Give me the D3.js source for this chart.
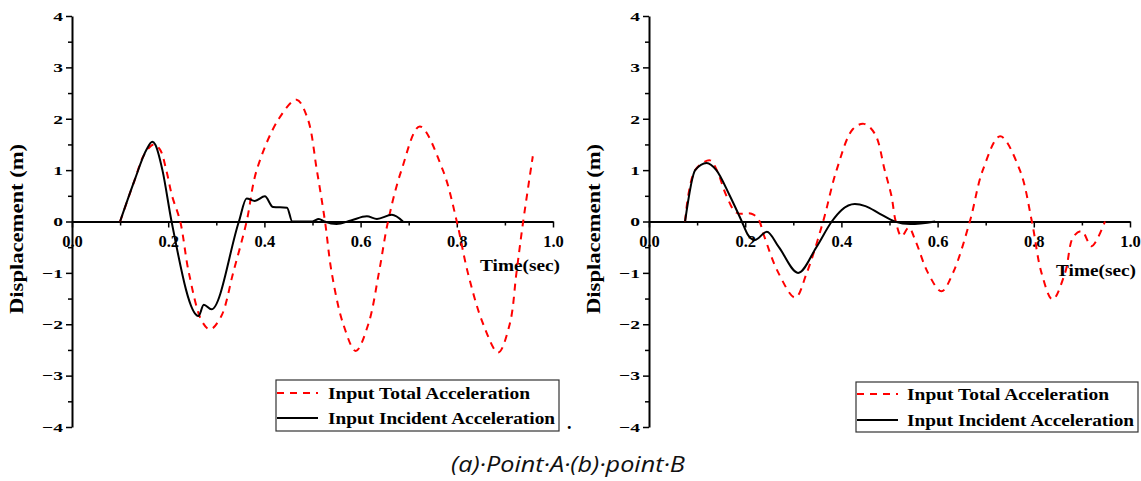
<!DOCTYPE html>
<html><head><meta charset="utf-8">
<script src="https://cdn.jsdelivr.net/npm/d3@7"></script>
<style>body{margin:0;background:#fff;} svg{display:block;}</style>
</head><body>
<svg id="chart" width="1141" height="481"></svg>
<script>
// ---------- data ----------
const xTicks = [0, 0.2, 0.4, 0.6, 0.8, 1.0];
const xMinorTicks = [0.1, 0.3, 0.5, 0.7, 0.9];
const yTicks = [-4, -3, -2, -1, 0, 1, 2, 3, 4];
const yMinorTicks = [-3.5, -2.5, -1.5, -0.5, 0.5, 1.5, 2.5, 3.5];
const seriesNames = ["Input Total Acceleration", "Input Incident Acceleration"];
const xLabel = "Time(sec)";
const yLabel = "Displacement (m)";
const caption = "(a)\u00B7Point\u00B7A\u00B7(b)\u00B7point\u00B7B";

// Point A - total acceleration (red dashed)
const aTotalT = [0.10,0.13,0.15,0.17,0.183,0.196,0.208,0.225,0.243,0.27,0.287,0.31,0.335,0.363,0.384,0.43,0.467,0.49,0.509,0.526,0.54,0.564,0.59,0.616,0.638,0.657,0.685,0.723,0.771,0.80,0.823,0.855,0.886,0.91,0.924,0.938,0.958];
const aTotalY = [0,0.8,1.3,1.5,1.4,1.0,0.5,0,-1.0,-1.94,-2.1,-1.85,-1.0,0,1.0,2.0,2.37,2.0,1.0,0,-1.0,-2.0,-2.52,-2.0,-1.0,0,1.0,1.85,1.0,0,-1.0,-2.0,-2.55,-2.0,-1.0,0,1.27];
// Point A - incident acceleration (black solid)
const aIncT = [0.10,0.13,0.155,0.167,0.173,0.188,0.207,0.263,0.274,0.29,0.347,0.363,0.38,0.401,0.418,0.447,0.458,0.48,0.50,0.513,0.525,0.55,0.58,0.613,0.634,0.665,0.688];
const aIncY = [0,0.8,1.4,1.55,1.5,1.0,0,-1.84,-1.62,-1.71,0,0.45,0.4,0.49,0.28,0.27,0,0,0,0.05,0,-0.05,0.02,0.1,0.05,0.13,0];

// Point B - total acceleration (red dashed)
const bTotalT = [0.075,0.096,0.127,0.141,0.161,0.182,0.213,0.227,0.24,0.269,0.304,0.328,0.362,0.39,0.424,0.447,0.47,0.49,0.504,0.513,0.525,0.54,0.555,0.58,0.608,0.632,0.667,0.694,0.73,0.771,0.796,0.816,0.839,0.865,0.882,0.90,0.92,0.948];
const bTotalY = [0,1.0,1.19,1.0,0.5,0.17,0.15,0.05,-0.3,-1.0,-1.48,-1.0,0,1.0,1.8,1.9,1.7,1.0,0.5,0,-0.29,-0.12,-0.4,-1.0,-1.36,-1.0,0,1.0,1.66,1.0,0,-1.0,-1.52,-1.0,-0.3,-0.19,-0.48,0];
// Point B - incident acceleration (black solid)
const bIncT = [0.075,0.096,0.12,0.14,0.168,0.193,0.205,0.22,0.245,0.27,0.31,0.348,0.38,0.40,0.428,0.45,0.48,0.511,0.543,0.595];
const bIncY = [0,1.0,1.14,1.0,0.5,0,-0.25,-0.36,-0.2,-0.5,-1.0,-0.5,0,0.22,0.34,0.3,0.15,0,-0.05,0];

// ---------- drawing ----------
const svg = d3.select("#chart");
const serif = "'Liberation Serif','Times New Roman',serif";
const RED = "#ff0000";

function toPoints(ts, ys) { return ts.map((t, i) => ({t, v: ys[i]})); }

const panels = [
  {left: 72, total: toPoints(aTotalT, aTotalY), inc: toPoints(aIncT, aIncY),
   timeX: 480, timeY: 271, legend: {x: 276, y: 380, w: 283, h: 51, r1: 393, r2: 418, b1: 399, b2: 424, lx1: 277, lx2: 318, tx: 328}, dot: true},
  {left: 649, total: toPoints(bTotalT, bTotalY), inc: toPoints(bIncT, bIncY),
   timeX: 1056, timeY: 276, legend: {x: 856, y: 382, w: 282, h: 50, r1: 394, r2: 420, b1: 400, b2: 426, lx1: 857, lx2: 898, tx: 907}, dot: false}
];

panels.forEach(p => {
  const g = svg.append("g");
  const x = d3.scaleLinear().domain([0, 1]).range([p.left, p.left + 481]);
  const y = d3.scaleLinear().domain([-4, 4]).range([427, 16]);

  // y axis minor ticks
  const yMinor = g.append("g").attr("transform", `translate(${p.left},0)`)
    .call(d3.axisLeft(y).tickValues(yMinorTicks).tickSize(4).tickFormat(""));
  yMinor.select(".domain").remove();
  yMinor.selectAll(".tick line").attr("stroke-width", 1.5);
  // y axis major
  const yAx = g.append("g").attr("transform", `translate(${p.left},0)`)
    .call(d3.axisLeft(y).tickValues(yTicks).tickSize(6).tickSizeOuter(0).tickPadding(3).tickFormat(d3.format("d")));
  yAx.select(".domain").attr("stroke-width", 2);
  yAx.selectAll(".tick line").attr("stroke-width", 1.5);
  yAx.selectAll(".tick text")
    .attr("font-family", serif).attr("font-weight", "bold").attr("font-size", 13.5)
    .attr("fill", "#000")
    .attr("x", -9 / 1.45).attr("transform", "scale(1.45,1)");

  // x axis
  const xMinor = g.append("g").attr("transform", `translate(0,${y(0)})`)
    .call(d3.axisBottom(x).tickValues(xMinorTicks).tickSize(4).tickFormat(""));
  xMinor.select(".domain").remove();
  xMinor.selectAll(".tick line").attr("stroke-width", 1.5);
  const xAx = g.append("g").attr("transform", `translate(0,${y(0)})`)
    .call(d3.axisBottom(x).tickValues(xTicks).tickSize(6).tickSizeOuter(0).tickPadding(8).tickFormat(d3.format(".1f")));
  xAx.select(".domain").attr("stroke-width", 2);
  xAx.selectAll(".tick line").attr("stroke-width", 1.5);
  xAx.selectAll(".tick text")
    .attr("font-family", serif).attr("font-weight", "bold").attr("font-size", 16.5).attr("fill", "#000");

  // axis titles
  g.append("text").text(xLabel)
    .attr("x", p.timeX).attr("y", p.timeY)
    .attr("font-family", serif).attr("font-weight", "bold").attr("font-size", 17.5)
    .attr("textLength", 80).attr("lengthAdjust", "spacingAndGlyphs").attr("fill", "#000");
  g.append("text").text(yLabel)
    .attr("transform", `translate(${p.left - 49},229) rotate(-90)`)
    .attr("text-anchor", "middle")
    .attr("font-family", serif).attr("font-weight", "bold").attr("font-size", 18)
    .attr("textLength", 170).attr("lengthAdjust", "spacingAndGlyphs").attr("fill", "#000");

  // curves
  const smooth = d3.line().x(d => x(d.t)).y(d => y(d.v)).curve(d3.curveCatmullRom.alpha(0.5));
  const mono = d3.line().x(d => x(d.t)).y(d => y(d.v)).curve(d3.curveMonotoneX);
  g.append("path").datum(p.total).attr("d", smooth)
    .attr("fill", "none").attr("stroke", RED).attr("stroke-width", 2).attr("stroke-dasharray", "7,6");
  g.append("path").datum(p.inc).attr("d", mono)
    .attr("fill", "none").attr("stroke", "#000").attr("stroke-width", 2);

  // legend
  const L = p.legend;
  g.append("rect").attr("x", L.x).attr("y", L.y).attr("width", L.w).attr("height", L.h)
    .attr("fill", "#fff").attr("stroke", "#333").attr("stroke-width", 1.2);
  const rows = [
    {name: seriesNames[0], cy: L.r1, by: L.b1, color: RED, dash: "7,6", len: 202},
    {name: seriesNames[1], cy: L.r2, by: L.b2, color: "#000", dash: null, len: 227}
  ];
  rows.forEach(r => {
    g.append("line").attr("x1", L.lx1).attr("x2", L.lx2).attr("y1", r.cy).attr("y2", r.cy)
      .attr("stroke", r.color).attr("stroke-width", 2).attr("stroke-dasharray", r.dash);
    g.append("text").text(r.name).attr("x", L.tx).attr("y", r.by)
      .attr("font-family", serif).attr("font-weight", "bold").attr("font-size", 16.5)
      .attr("textLength", r.len).attr("lengthAdjust", "spacingAndGlyphs").attr("fill", "#000");
  });
  if (p.dot) {
    g.append("text").text(".").attr("x", 567).attr("y", 429)
      .attr("font-family", serif).attr("font-weight", "bold").attr("font-size", 18).attr("fill", "#000");
  }
});

// caption
svg.append("text").text(caption)
  .attr("x", 451).attr("y", 472)
  .attr("font-family", "'Open Sans','Noto Sans',sans-serif").attr("font-style", "italic")
  .attr("font-size", 22).attr("textLength", 234).attr("lengthAdjust", "spacingAndGlyphs").attr("fill", "#111");
</script>
</body></html>
